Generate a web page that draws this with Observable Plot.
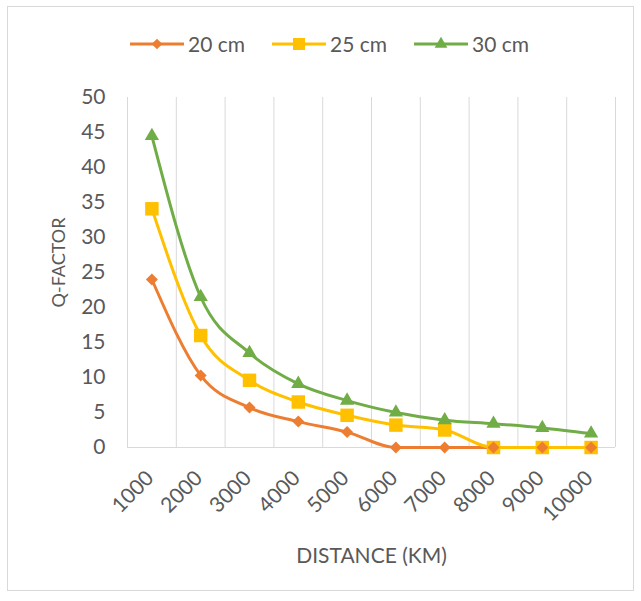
<!DOCTYPE html>
<html>
<head>
<meta charset="utf-8">
<script src="https://cdn.jsdelivr.net/npm/d3@7"></script>
<script src="https://cdn.jsdelivr.net/npm/@observablehq/plot@0.6"></script>
<style>
  html, body { margin: 0; padding: 0; background: #fff; }
  body { width: 641px; height: 601px; position: relative; font-family: Lato, "Open Sans", sans-serif; }
  #frame { position: absolute; left: 7px; top: 6px; width: 627px; height: 585px; border: 1px solid #d9d9d9; box-sizing: border-box; }
  #legend { position: absolute; left: 130px; top: 31px; display: flex; align-items: center; gap: 27px; color: #595959; font-size: 21px; }
  .item { display: flex; align-items: center; gap: 4px; }
  #chart { position: absolute; left: 0; top: 60px; }
</style>
</head>
<body>
<div id="frame"></div>
<div id="legend"></div>
<div id="chart"></div>
<script>
// Transmission distance categories (km)
const distances = ["1000", "2000", "3000", "4000", "5000", "6000", "7000", "8000", "9000", "10000"];

// Q-factor for each fibre length
const series = ["20 cm", "25 cm", "30 cm"];
const q20 = [24.0, 10.3, 5.7, 3.7, 2.2, 0, 0, 0, 0, 0];
const q25 = [34.1, 16.0, 9.6, 6.5, 4.6, 3.2, 2.5, 0, 0, 0];
const q30 = [44.5, 21.5, 13.5, 9.1, 6.7, 5.0, 3.9, 3.4, 2.8, 2.0];

const yTicks = [0, 5, 10, 15, 20, 25, 30, 35, 40, 45, 50];

const colors = ["#ED7D31", "#FFC000", "#70AD47"];
const symbols = ["diamond2", "square", "triangle"];
const sizes = [5.4, 7.6, 5.3];

const rows = [q20, q25, q30].flatMap((values, s) =>
  values.map((q, i) => ({ i, q, series: series[s] }))
);

// Category boundaries for the vertical gridlines
const boundaries = d3.range(distances.length + 1).map((i) => i - 0.5);

const textColor = "#595959";

const chart = Plot.plot({
  width: 641,
  height: 530,
  marginLeft: 127,
  marginRight: 26,
  marginTop: 37,
  marginBottom: 143,
  style: { fontFamily: "Lato, sans-serif", color: textColor, background: "transparent" },
  x: { type: "linear", domain: [-0.5, distances.length - 0.5], axis: null },
  y: { domain: [0, 50], axis: null },
  color: { domain: series, range: colors },
  symbol: { domain: series, range: symbols },
  r: { type: "identity" },
  marks: [
    Plot.ruleX(boundaries, { stroke: "#d9d9d9", strokeWidth: 1 }),
    Plot.ruleY([0], { stroke: "#d9d9d9", strokeWidth: 1 }),
    Plot.axisY({ ticks: yTicks, tickSize: 0, tickPadding: 22, fontSize: 21, label: null }),
    Plot.text(distances, {
      x: (d, i) => i, text: (d) => d, frameAnchor: "bottom",
      rotate: -45, textAnchor: "end", dx: 3, dy: 32, fontSize: 21, fill: textColor
    }),
    Plot.text(["DISTANCE (KM)"], {
      frameAnchor: "bottom", dy: 115, fontSize: 21, fill: textColor
    }),
    Plot.text(["Q-FACTOR"], {
      frameAnchor: "left", textAnchor: "middle", dx: -68, dy: -10,
      rotate: -90, fontSize: 18, fill: textColor
    }),
    Plot.line(rows, {
      x: "i", y: "q", z: "series", stroke: "series",
      curve: "monotone-x", strokeWidth: 3
    }),
    Plot.dot(rows, {
      x: "i", y: "q", symbol: "series", fill: "series",
      r: (d) => sizes[series.indexOf(d.series)], stroke: "none"
    })
  ]
});
document.getElementById("chart").appendChild(chart);

// Legend: line with marker, then the series name
const legend = d3.select("#legend");
series.forEach((name, s) => {
  const item = legend.append("div").attr("class", "item");
  const svg = item.append("svg").attr("width", 54).attr("height", 16);
  svg.append("line").attr("x1", 0).attr("x2", 54).attr("y1", 8).attr("y2", 8)
    .attr("stroke", colors[s]).attr("stroke-width", 3);
  svg.append("path")
    .attr("transform", "translate(27,8)")
    .attr("d", d3.symbol(
      [d3.symbolDiamond2, d3.symbolSquare, d3.symbolTriangle][s],
      Math.PI * sizes[s] * sizes[s] * 0.8
    )())
    .attr("fill", colors[s]);
  item.append("span").text(name);
});
</script>
</body>
</html>
